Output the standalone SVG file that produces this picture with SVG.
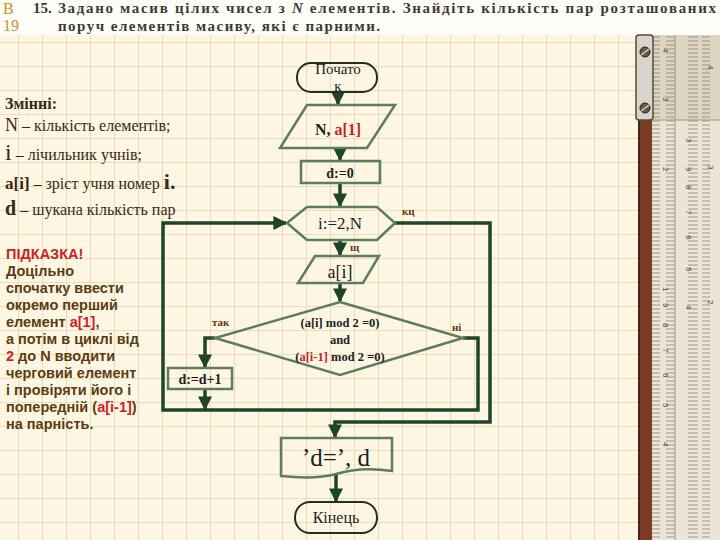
<svg xmlns="http://www.w3.org/2000/svg" width="720" height="540" viewBox="0 0 720 540">
<defs>
<pattern id="grid" patternUnits="userSpaceOnUse" x="18" y="18" width="24" height="24">
<rect width="24" height="24" fill="#fdf6e3"/>
<path d="M0,0 H24 M0,0 V24" stroke="#eddcbc" stroke-width="2" fill="none"/>
</pattern>
<pattern id="ticks" patternUnits="userSpaceOnUse" x="0" y="0" width="70" height="4">
<path d="M2,1 H10 M20,1 H30 M36,1 H44 M58,1 H68" stroke="#8a8478" stroke-width="0.8"/>
</pattern>
<marker id="ah" viewBox="0 0 10 10" refX="9" refY="5" markerWidth="4" markerHeight="4" orient="auto" markerUnits="strokeWidth">
<path d="M0,0 L10,5 L0,10 Z" fill="#1f4428"/>
</marker>
<style>
.sh{fill:none;stroke:#5d7d5e;stroke-width:2.5}
.term{fill:none;stroke:#23301f;stroke-width:2}
.cn{fill:none;stroke:#1f4428;stroke-width:3.5}
.ser{font-family:"Liberation Serif","DejaVu Serif",serif;fill:#1e1e1e}
.b{font-weight:bold}
.lbl{font-family:"Liberation Serif",serif;font-weight:bold;font-size:11px;fill:#6b3510}
.var{font-family:"Liberation Serif","DejaVu Serif",serif;fill:#3b2812}
.hint{font-family:"Liberation Sans",Arial,sans-serif;font-weight:bold;font-size:14.5px;fill:#5b3c12}
.red{fill:#cc1f2a}
.hdr{font-family:"Liberation Serif","DejaVu Serif",serif;font-weight:bold;font-size:15px;fill:#3a3a3a}
.rn{font-family:"Liberation Sans",sans-serif;font-size:8px;fill:#444}
</style>
</defs>

<!-- background -->
<rect width="720" height="540" fill="url(#grid)"/>
<rect width="720" height="35" fill="#fffdf8"/>

<!-- header -->
<text x="3" y="14" font-family="Liberation Serif,serif" font-size="16" fill="#c8902a">В</text>
<text x="3" y="31" font-family="Liberation Serif,serif" font-size="16" fill="#c8902a">19</text>
<text x="33" y="13" class="hdr" font-family="Liberation Sans,sans-serif" fill="#222">15.</text>
<text x="58" y="13" class="hdr" textLength="658" lengthAdjust="spacing">Задано масив цілих чисел з <tspan font-style="italic">N</tspan> елементів. Знайдіть кількість пар розташованих</text>
<text x="58" y="31" class="hdr" textLength="322" lengthAdjust="spacing">поруч елементів масиву, які є парними.</text>

<!-- ruler -->
<g id="ruler">
<rect x="652" y="35" width="68" height="505" fill="#ebe5d7"/>
<rect x="652" y="35" width="68" height="85" fill="#ddd5c2"/>
<rect x="652" y="35" width="68" height="505" fill="url(#ticks)"/>
<line x1="675" y1="35" x2="675" y2="540" stroke="#9a9282" stroke-width="1"/>
<line x1="652" y1="120" x2="720" y2="120" stroke="#a09884" stroke-width="1"/>
<rect x="638" y="120" width="14" height="420" fill="#7b3b22"/>
<line x1="639" y1="120" x2="639" y2="540" stroke="#4a2212" stroke-width="2"/>
<rect x="636" y="35" width="17" height="85" rx="3" fill="#d8d4cc" stroke="#5a4a38" stroke-width="1.5"/>
<circle cx="645" cy="52" r="5" fill="#6a5a48" stroke="#2a2018"/>
<circle cx="645" cy="108" r="5" fill="#6a5a48" stroke="#2a2018"/>
<path d="M641,55 L649,49 M641,111 L649,105" stroke="#ddd" stroke-width="1.2"/>
<g class="rn">
<text transform="translate(663,48) rotate(90)">4</text>
<text transform="translate(663,97) rotate(90)">3</text>
<text transform="translate(663,167) rotate(90)">2</text>
<text transform="translate(663,287) rotate(90)">1</text>
<text transform="translate(663,303) rotate(90)">9</text>
<text transform="translate(663,323) rotate(90)">8</text>
<text transform="translate(663,348) rotate(90)">7</text>
<text transform="translate(663,373) rotate(90)">6</text>
<text transform="translate(663,403) rotate(90)">5</text>
<text transform="translate(663,442) rotate(90)">4</text>
<text transform="translate(686,138) rotate(90)">3</text>
<text transform="translate(686,167) rotate(90)">9</text>
<text transform="translate(686,185) rotate(90)">8</text>
<text transform="translate(686,210) rotate(90)">7</text>
<text transform="translate(686,235) rotate(90)">6</text>
<text transform="translate(686,267) rotate(90)">5</text>
<text transform="translate(686,305) rotate(90)">4</text>
<text transform="translate(708,65) rotate(90)">4</text>
<text transform="translate(708,165) rotate(90)">3</text>
<text transform="translate(708,300) rotate(90)">2</text>
</g>
</g>

<!-- variables -->
<g id="vars">
<text x="5" y="109" class="var b" font-size="16">Змінні:</text>
<text x="5" y="131" class="var" font-size="16"><tspan font-size="18">N</tspan> – кількість елементів;</text>
<text x="5" y="160" class="var" font-size="16"><tspan font-size="24">i</tspan> – лічильник учнів;</text>
<text x="5" y="189" class="var" font-size="16"><tspan font-size="17" font-weight="bold">a[i]</tspan> – зріст учня номер <tspan font-size="22" font-weight="bold">i.</tspan></text>
<text x="5" y="215" class="var" font-size="16"><tspan font-size="20" font-weight="bold">d</tspan> – шукана кількість пар</text>
</g>

<!-- hint -->
<g id="hint" class="hint">
<text x="6" y="259" class="red">ПІДКАЗКА!</text>
<text x="6" y="276">Доцільно</text>
<text x="6" y="293">спочатку ввести</text>
<text x="6" y="310">окремо перший</text>
<text x="6" y="327">елемент <tspan class="red">a[1]</tspan>,</text>
<text x="6" y="344">а потім в циклі від</text>
<text x="6" y="361"><tspan class="red">2</tspan> до N вводити</text>
<text x="6" y="378">черговий елемент</text>
<text x="6" y="395">і провіряти його і</text>
<text x="6" y="412">попередній (<tspan class="red">a[i-1]</tspan>)</text>
<text x="6" y="429">на парність.</text>
</g>

<!-- connectors -->
<g id="connectors">
<path class="cn" d="M338,94 V104" marker-end="url(#ah)"/>
<path class="cn" d="M340,148 V160" marker-end="url(#ah)"/>
<path class="cn" d="M340,183 V206" marker-end="url(#ah)"/>
<path class="cn" d="M340,240 V255" marker-end="url(#ah)"/>
<path class="cn" d="M340,283 V301" marker-end="url(#ah)"/>
<path class="cn" d="M215,338 H205 V367" marker-end="url(#ah)"/>
<path class="cn" d="M205,389 V409" marker-end="url(#ah)"/>
<path class="cn" d="M463,338 H478 V410 H163 V223 H286" marker-end="url(#ah)"/>
<path class="cn" d="M395,223 H490 V422 H335 V437" marker-end="url(#ah)"/>
<path class="cn" d="M336,474 V501" marker-end="url(#ah)"/>
</g>

<!-- nodes -->
<g id="start">
<rect x="297" y="63" width="80" height="29" rx="14" class="term"/>
<text x="338" y="74" class="ser" font-size="15" text-anchor="middle">Почато</text>
<text x="338" y="91" class="ser" font-size="15" text-anchor="middle">к</text>
</g>
<g id="input1">
<polygon points="307,105 395,105 367,148 280,148" class="sh"/>
<text x="338" y="135" class="ser b" font-size="16" text-anchor="middle">N, <tspan class="red">a[1]</tspan></text>
</g>
<g id="init">
<rect x="301" y="161" width="79" height="22" class="sh"/>
<text x="340" y="178" class="ser b" font-size="14" text-anchor="middle">d:=0</text>
</g>
<g id="loop">
<polygon points="287,223 307,207 377,207 395,223 377,240 307,240" class="sh"/>
<text x="340" y="229" class="ser" font-size="17" text-anchor="middle">i:=2,N</text>
<text x="402" y="215" class="lbl">кц</text>
<text x="350" y="251" class="lbl">щ</text>
</g>
<g id="input2">
<polygon points="315,256 379,256 363,283 298,283" class="sh"/>
<text x="340" y="278" class="ser" font-size="18" text-anchor="middle">a[i]</text>
</g>
<g id="cond">
<polygon points="340,302 463,338 340,375 215,338" class="sh"/>
<text x="340" y="327" class="ser b" font-size="12.5" text-anchor="middle">(a[i] mod 2 =0)</text>
<text x="340" y="344" class="ser b" font-size="12.5" text-anchor="middle">and</text>
<text x="340" y="361" class="ser b" font-size="12.5" text-anchor="middle">(<tspan class="red">a[i-1]</tspan> mod 2 =0)</text>
<text x="212" y="326" class="lbl" font-size="10">так</text>
<text x="452" y="331" class="lbl">ні</text>
</g>
<g id="inc">
<rect x="168" y="368" width="64" height="21" class="sh"/>
<text x="200" y="384" class="ser b" font-size="14" text-anchor="middle">d:=d+1</text>
</g>
<g id="output">
<path d="M281,438 H392 V471 C372,468 352,469 336,474 C318,479 300,478 281,476 Z" class="sh"/>
<text x="336" y="466" class="ser" font-size="25" text-anchor="middle">’d=’, d</text>
</g>
<g id="end">
<rect x="295" y="502" width="82" height="31" rx="15" class="term"/>
<text x="336" y="523" class="ser" font-size="16" text-anchor="middle">Кінець</text>
</g>
</svg>
